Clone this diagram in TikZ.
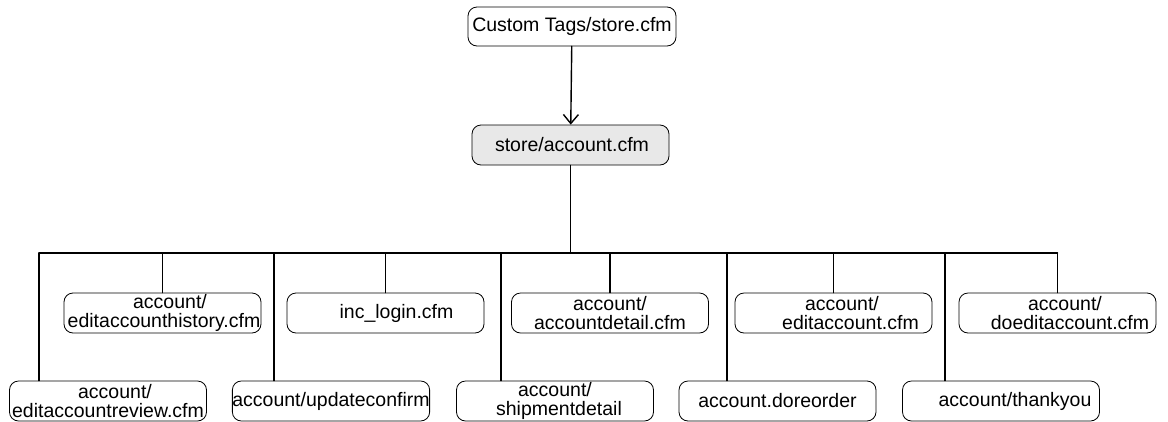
\documentclass[tikz,border=0pt]{standalone}
\usepackage{fontspec}
\setmainfont{Liberation Sans}
\usetikzlibrary{arrows.meta}

\begin{document}
\begin{tikzpicture}[x=1pt, y=-1pt, line cap=round, line join=round, >={Straight Barb[length=9pt,width=15pt]}]
\tikzset{
    page/.style=     {draw, rounded corners=9pt, line width=0.8pt, minimum width=197pt,
                      minimum height=40pt, inner sep=0pt, align=center,
                      font=\fontsize{19.5}{19}\selectfont},
    rootpage/.style= {page, minimum width=208pt, minimum height=39pt},
    mainpage/.style= {page, fill=gray!18},
    link/.style=     {line width=1.4pt}
}
\useasboundingbox (0,0) rectangle (1168,421);

%% top of the tree
\node[rootpage] (root) at (572,26.5) {Custom Tags/store.cfm};
\node[mainpage] (acc) at (570.5,145) {\hspace*{3pt}store/account.cfm};

%% first row of pages
\node[page] (hist)   at (162.5,313)  {\hspace*{15pt}account/\\\hspace*{3pt}editaccounthistory.cfm};
\node[page] (login)  at (385.5,313)  {\hspace*{22pt}inc\_login.cfm};
\node[page] (detail) at (610,313)    {account/\\accountdetail.cfm};
\node[page] (edit)   at (833.5,313)  {\hspace*{17pt}account/\\\hspace*{34pt}editaccount.cfm};
\node[page] (doedit) at (1057.5,313) {\hspace*{15pt}account/\\\hspace*{25pt}doeditaccount.cfm};

%% second row of pages
\node[page] (review)  at (108,401)   {\hspace*{14pt}account/\\editaccountreview.cfm};
\node[page] (update)  at (331,401)   {account/updateconfirm};
\node[page] (ship)    at (555,401)   {account/\\\hspace*{8pt}shipmentdetail};
\node[page] (reorder) at (777.5,401) {account.doreorder};
\node[page] (thank)   at (1001,401)  {\hspace*{28pt}account/thankyou};

%% bus
\coordinate (bus) at (570.5,253);
\coordinate (d1) at (39,253);
\coordinate (d2) at (274,253);
\coordinate (d3) at (501,253);
\coordinate (d4) at (727,253);
\coordinate (d5) at (945,253);
\coordinate (busend) at (1057.5,253);

\draw[link,->] (root) -- (acc);
\draw[link] (acc) -- (bus);
\draw[link] (d1) -- (busend);

\foreach \n in {hist,login,detail,edit,doedit}
  \draw[link] (\n.north |- bus) -- (\n.north);

\draw[link] (d1) -- (d1 |- review.north);
\draw[link] (d2) -- (d2 |- update.north);
\draw[link] (d3) -- (d3 |- ship.north);
\draw[link] (d4) -- (d4 |- reorder.north);
\draw[link] (d5) -- (d5 |- thank.north);

\end{tikzpicture}
\end{document}
